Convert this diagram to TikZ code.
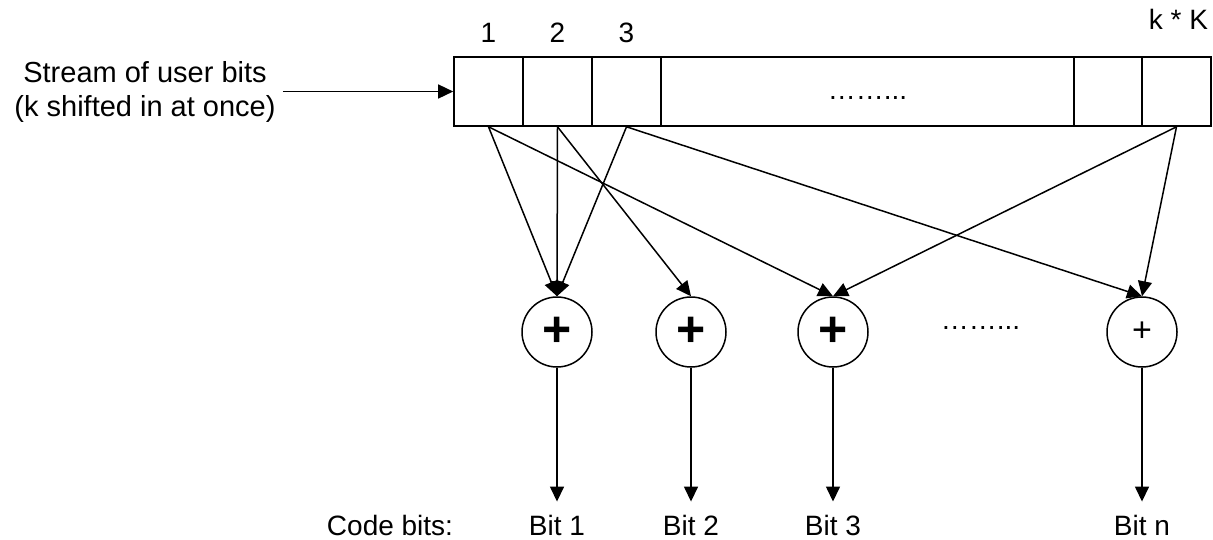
\documentclass[tikz,border=0pt]{standalone}
\usepackage{fontspec}
\setmainfont{Liberation Sans}
\usetikzlibrary{arrows.meta}
\begin{document}
\begin{tikzpicture}[x=1pt,y=-1pt,
  every node/.style={font=\fontsize{28}{34}\selectfont},
  cell/.style={draw, line width=1.6pt, rectangle, inner sep=0pt, minimum height=69pt},
  adder/.style={draw, circle, line width=1.5pt, minimum size=70pt, inner sep=0pt},
  conn/.style={line width=1.5pt, -{Triangle[length=15pt,width=14pt]}},
  bitlbl/.style={inner xsep=0pt, inner ysep=13pt},
  numlbl/.style={inner sep=0pt}]
\useasboundingbox (0,0) rectangle (1213,539);

% shift register
\node[cell, minimum width=69pt] (c1) at (488.5,91.5) {};
\node[cell, minimum width=69pt] (c2) at (557.5,91.5) {};
\node[cell, minimum width=69pt] (c3) at (626.5,91.5) {};
\node[cell, minimum width=413pt] (cm) at (867.5,91.5) {};
\node[cell, minimum width=68pt] (c5) at (1108,91.5) {};
\node[cell, minimum width=69pt] (c6) at (1176.5,91.5) {};
\node[anchor=base, inner sep=0pt, yshift=-7.5pt] (d1) at (cm.center) {……...};

% cell labels
\node[numlbl] (l1) at (488.5,33) {1};
\node[numlbl] (l2) at (557.5,33) {2};
\node[numlbl] (l3) at (626.5,33) {3};
\node[numlbl] (lk) at (1178.5,19) {k * K};

% input
\node[align=center, inner xsep=7pt, inner ysep=4pt, font=\fontsize{29}{34}\selectfont] (stream) at (145,91.5) {Stream of user bits\\(k shifted in at once)};
\draw[conn] (stream.east) -- (c1.west);

% adders
\node[adder] (s1) at (557,332) {\fontsize{50}{50}\selectfont\bfseries +};
\node[adder] (s2) at (691,332) {\fontsize{50}{50}\selectfont\bfseries +};
\node[adder] (s3) at (833,332) {\fontsize{50}{50}\selectfont\bfseries +};
\node[adder] (s4) at (1142,332) {\fontsize{34}{34}\selectfont +};
\node[anchor=base, inner sep=0pt] (d2) at (980.5,329) {……...};

% connections
\draw[conn] (c1.south) -- (s1.north);
\draw[conn] (c1.south) -- (s3.north);
\draw[conn] (c2.south) -- (s1.north);
\draw[conn] (c2.south) -- (s2.north);
\draw[conn] (c3.south) -- (s1.north);
\draw[conn] (c3.south) -- (s4.north);
\draw[conn] (c6.south) -- (s3.north);
\draw[conn] (c6.south) -- (s4.north);

% outputs
\node[bitlbl] (cb) at (390,525) {Code bits:};
\node[bitlbl] (b1) at (557,525) {Bit 1};
\node[bitlbl] (b2) at (691,525) {Bit 2};
\node[bitlbl] (b3) at (833,525) {Bit 3};
\node[bitlbl] (bn) at (1142,525) {Bit n};
\draw[conn] (s1.south) -- (b1.north);
\draw[conn] (s2.south) -- (b2.north);
\draw[conn] (s3.south) -- (b3.north);
\draw[conn] (s4.south) -- (bn.north);
\end{tikzpicture}
\end{document}
